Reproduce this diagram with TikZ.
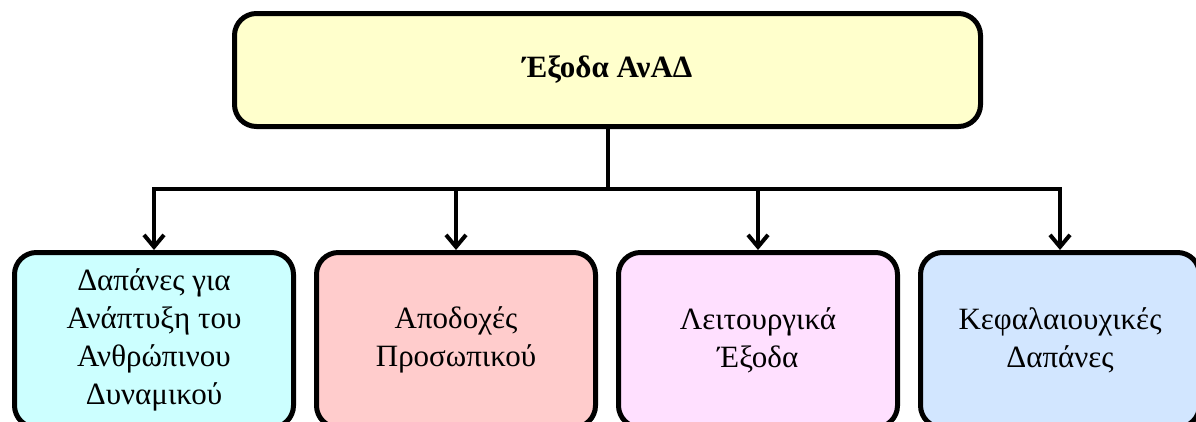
\documentclass[tikz,border=0pt]{standalone}
\usepackage{fontspec}
\setmainfont{Liberation Serif}
\usepackage{tikz}
\usetikzlibrary{arrows.meta}
\usetikzlibrary{positioning}

\definecolor{headfill}{HTML}{FFFFCC}
\definecolor{cyanfill}{HTML}{CCFFFF}
\definecolor{redfill}{HTML}{FFCCCC}
\definecolor{pinkfill}{HTML}{FFE0FF}
\definecolor{bluefill}{HTML}{D2E6FF}

\tikzset{
  box/.style={draw, line width=5pt, rounded corners=22pt, align=center,
    font=\fontsize{31}{38}\selectfont},
  headbox/.style={box, fill=headfill, minimum width=746pt, minimum height=113pt,
    font=\fontsize{31}{38}\selectfont\bfseries},
  itembox/.style={box, minimum width=279pt, minimum height=175pt},
  arr/.style={line width=4pt, -{Straight Barb[length=12pt,width=20pt,line width=4pt]}}
}

\begin{document}
\begin{tikzpicture}[x=1pt, y=-1pt]

  \useasboundingbox (0,0) rectangle (1196,421);

  \node[headbox] (root) at (607.5,70) {Έξοδα ΑνΑΔ};

  \node[itembox, fill=cyanfill, anchor=north west] (hr) at (12,250)
    {Δαπάνες για\\ Ανάπτυξη του\\ Ανθρώπινου\\ Δυναμικού};
  \node[itembox, fill=redfill, right=18pt of hr] (pay) {Αποδοχές\\ Προσωπικού};
  \node[itembox, fill=pinkfill, right=18pt of pay] (ops) {Λειτουργικά\\ Έξοδα};
  \node[itembox, fill=bluefill, right=18pt of ops] (cap) {Κεφαλαιουχικές\\ Δαπάνες};

  \coordinate (bus) at (607.5,189);
  \draw[line width=4pt] (root) -- (bus);
  \foreach \n in {hr,pay,ops,cap}
    \draw[arr] (bus) -| (\n.north);

\end{tikzpicture}
\end{document}
